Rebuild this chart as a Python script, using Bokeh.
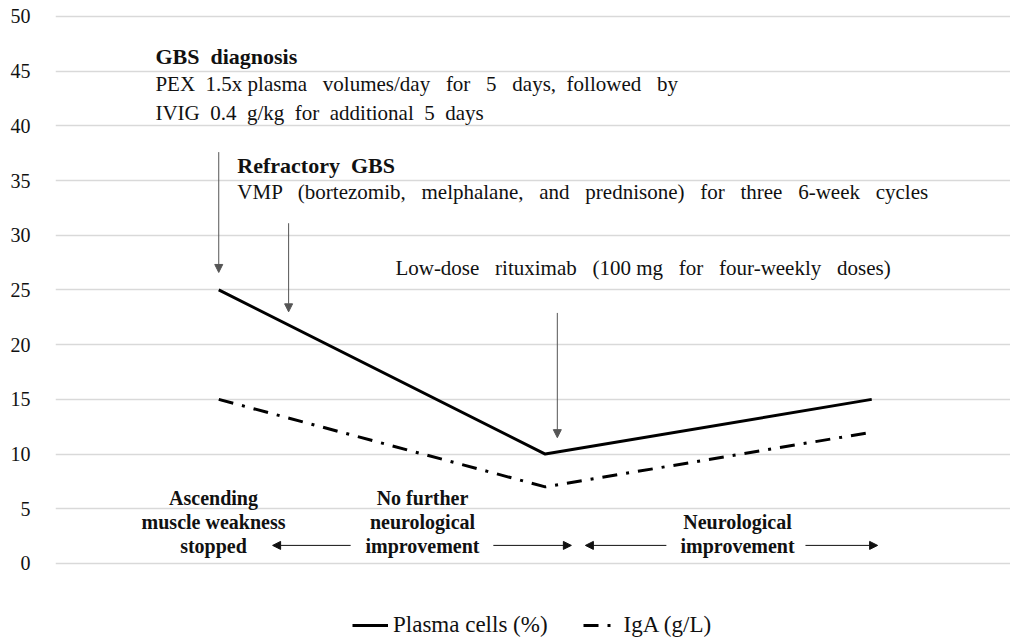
from bokeh.plotting import figure
from bokeh.models import (Range1d, FixedTicker, Label, Arrow, NormalHead,
                          Legend, LegendItem)
from bokeh.embed import file_html
from bokeh.resources import INLINE

# ---- data ----
timepoints = [1, 2, 3]
plasma_cells = [25, 10, 15]
iga = [15, 7, 12]
y_ticks = [0, 5, 10, 15, 20, 25, 30, 35, 40, 45, 50]

series_names = ["Plasma cells (%)", "IgA (g/L)"]

FONT = "Liberation Serif"
INK = "#111111"
W = " \u2002"   # wide word gap, as in the justified original
M = " \u2005"   # medium word gap

p = figure(width=1010, height=638, output_backend="svg", toolbar_location=None,
           x_axis_type=None, x_range=Range1d(0.5, 3.425),
           y_range=Range1d(-6.86, 51.46),
           min_border_left=55, min_border_right=0, min_border_top=0,
           min_border_bottom=0)
p.outline_line_color = None
p.background_fill_color = "white"
p.border_fill_color = "white"

ax = p.yaxis[0]
ax.ticker = FixedTicker(ticks=y_ticks)
ax.axis_line_color = None
ax.major_tick_line_color = None
ax.minor_tick_line_color = None
ax.major_label_standoff = 19
ax.major_label_text_font = FONT
ax.major_label_text_font_size = "20px"
ax.major_label_text_color = INK
p.ygrid.grid_line_color = "#d9d9d9"
p.ygrid.grid_line_width = 1.3

r1 = p.line(timepoints, plasma_cells, line_color="black", line_width=3)
r2 = p.line(timepoints, iga, line_color="black", line_width=3,
            line_dash="15 9 3 9")

legend = Legend(items=[LegendItem(label=series_names[0], renderers=[r1]),
                       LegendItem(label=series_names[1], renderers=[r2])],
                orientation="horizontal", location=(297, 0),
                glyph_width=36, glyph_height=22, label_height=22,
                label_standoff=5, spacing=35, padding=0, margin=0,
                border_line_color=None, background_fill_alpha=0,
                label_text_font=FONT, label_text_font_size="23px",
                label_text_color=INK)
p.add_layout(legend)


def lab(x, y, t, bold=False, align="left", size="21px"):
    p.add_layout(Label(x=x, y=y, text=t, text_font=FONT, text_font_size=size,
                       text_font_style="bold" if bold else "normal",
                       text_align=align, text_baseline="middle",
                       text_color=INK))


# top annotations
lab(0.806, 46.3, "GBS\u2002diagnosis", bold=True, size="22px")
lab(0.806, 43.8, "PEX" + M + "1.5x plasma" + W + "volumes/day" + W + "for" + W
    + "5" + W + "days," + M + "followed" + W + "by")
lab(0.806, 41.2, M.join(["IVIG", "0.4", "g/kg", "for", "additional", "5", "days"]))
lab(1.057, 36.4, "Refractory\u2002GBS", bold=True, size="22px")
lab(1.057, 34.0, W.join(["VMP", "(bortezomib,", "melphalane,", "and", "prednisone)",
                         "for", "three", "6-week", "cycles"]))
lab(1.541, 27.0, W.join(["Low-dose", "rituximab", "(100 mg", "for", "four-weekly",
                         "doses)"]) )

# bottom annotations
bs = "20px"
lab(0.984, 6.0, "Ascending", bold=True, align="center", size=bs)
lab(0.984, 3.8, "muscle weakness", bold=True, align="center", size=bs)
lab(0.984, 1.6, "stopped", bold=True, align="center", size=bs)
lab(1.624, 6.0, "No further", bold=True, align="center", size=bs)
lab(1.624, 3.8, "neurological", bold=True, align="center", size=bs)
lab(1.624, 1.6, "improvement", bold=True, align="center", size=bs)
lab(2.589, 3.8, "Neurological", bold=True, align="center", size=bs)
lab(2.589, 1.6, "improvement", bold=True, align="center", size=bs)


def arr(x0, y0, x1, y1, color="#333333"):
    p.add_layout(Arrow(end=NormalHead(size=8, fill_color=color, line_color=color),
                       x_start=x0, y_start=y0, x_end=x1, y_end=y1,
                       line_color=color, line_width=1))


arr(1.0, 37.6, 1.0, 26.6, "#555555")
arr(1.214, 31.1, 1.214, 23.0, "#555555")
arr(2.037, 22.9, 2.037, 11.5, "#555555")
arr(1.404, 1.65, 1.165, 1.65, "#111111")
arr(1.841, 1.65, 2.080, 1.65, "#111111")
arr(2.371, 1.65, 2.123, 1.65, "#111111")
arr(2.797, 1.65, 3.018, 1.65, "#111111")

open("out.html", "w").write(file_html(p, INLINE))
